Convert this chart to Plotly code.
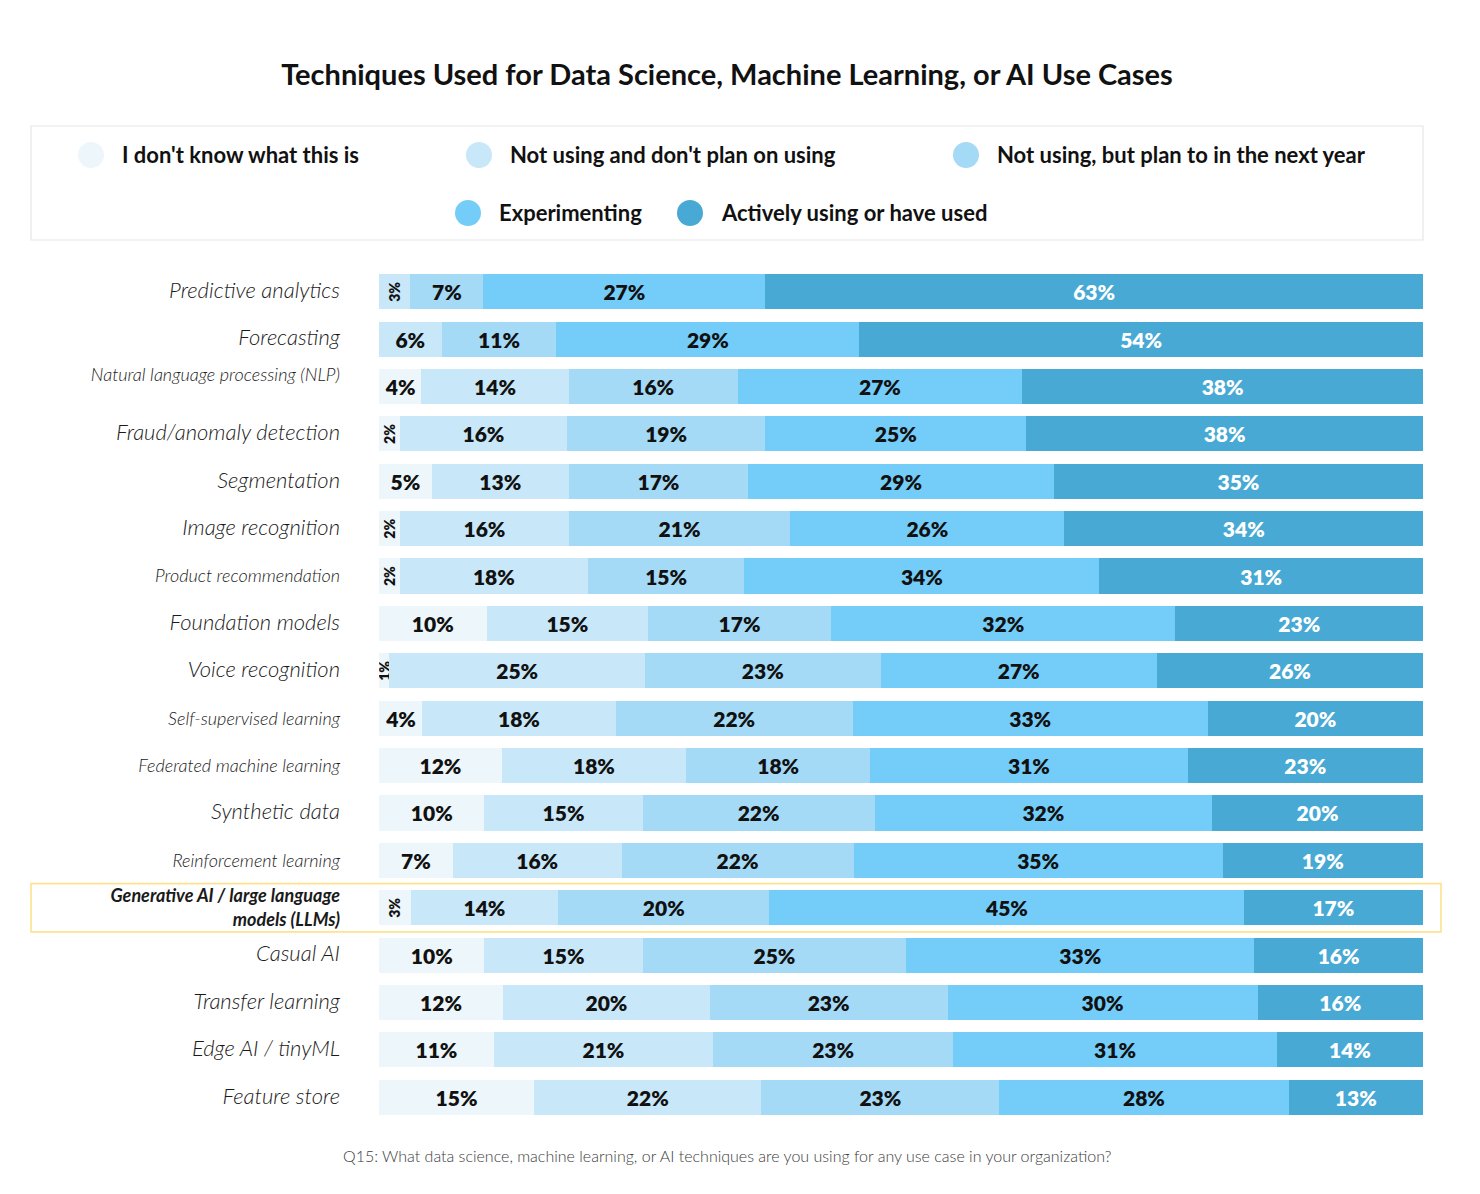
import plotly.graph_objects as go

techniques = [
    "Predictive analytics",
    "Forecasting",
    "Natural language processing (NLP)",
    "Fraud/anomaly detection",
    "Segmentation",
    "Image recognition",
    "Product recommendation",
    "Foundation models",
    "Voice recognition",
    "Self-supervised learning",
    "Federated machine learning",
    "Synthetic data",
    "Reinforcement learning",
    "Generative AI / large language models (LLMs)",
    "Casual AI",
    "Transfer learning",
    "Edge AI / tinyML",
    "Feature store",
]

dont_know = [0, 0, 4, 2, 5, 2, 2, 10, 1, 4, 12, 10, 7, 3, 10, 12, 11, 15]
not_using = [3, 6, 14, 16, 13, 16, 18, 15, 25, 18, 18, 15, 16, 14, 15, 20, 21, 22]
plan_next_year = [7, 11, 16, 19, 17, 21, 15, 17, 23, 22, 18, 22, 22, 20, 25, 23, 23, 23]
experimenting = [27, 29, 27, 25, 29, 26, 34, 32, 27, 33, 31, 32, 35, 45, 33, 30, 31, 28]
actively_using = [63, 54, 38, 38, 35, 34, 31, 23, 26, 20, 23, 20, 19, 17, 16, 16, 14, 13]

series_names = [
    "I don't know what this is",
    "Not using and don't plan on using",
    "Not using, but plan to in the next year",
    "Experimenting",
    "Actively using or have used",
]
series_values = [dont_know, not_using, plan_next_year, experimenting, actively_using]
colors = ["#EDF6FA", "#C8E7F8", "#A5DAF7", "#74CDF9", "#47A9D4"]
text_colors = ["#111111", "#111111", "#111111", "#111111", "#FFFFFF"]

small_font_labels = {
    "Natural language processing (NLP)",
    "Product recommendation",
    "Self-supervised learning",
    "Federated machine learning",
    "Reinforcement learning",
}
highlight = "Generative AI / large language models (LLMs)"

FONT = "Lato"
OFF = 8  # page margin around the figure
W, H = 1480, 1194
L, R, T, B = 379 - OFF, 57 + OFF, 268 - OFF, 73 + OFF
PW, PH = W - L - R, H - T - B


def px_x(px):
    return (px - OFF - L) / PW


def px_y(py):
    return (H - B - (py - OFF)) / PH


def span(txt, size):
    return '<span style="font-size:%dpx">%s</span>' % (size, txt)


def tick_label(name):
    if name == highlight:
        return "<b>Generative AI / large language<br>models (LLMs)</b>"
    if name == "Natural language processing (NLP)":
        return name + "<br>\u00a0"
    if name in small_font_labels:
        return name
    return span(name, 22)


fig = go.Figure()

for name, vals, col, tcol in zip(series_names, series_values, colors, text_colors):
    big = [v if v > 3 else 0 for v in vals]
    small = [v if 0 < v <= 3 else 0 for v in vals]
    fig.add_trace(go.Bar(
        y=techniques, x=big, orientation="h", name=name,
        marker=dict(color=col, line=dict(width=0)),
        text=["%d%%" % v if v else "" for v in big],
        textposition="inside", insidetextanchor="middle", textangle=0,
        constraintext="none",
        textfont=dict(family=FONT, size=21, color=tcol, weight=800),
        showlegend=False, hoverinfo="skip",
    ))
    fig.add_trace(go.Bar(
        y=techniques, x=small, orientation="h", name=name,
        marker=dict(color=col, line=dict(width=0)),
        text=["%d%%" % v if v else "" for v in small],
        textposition="inside", insidetextanchor="middle", textangle=-90,
        constraintext="none",
        textfont=dict(family=FONT, size=14, color=tcol, weight=800),
        showlegend=False, hoverinfo="skip",
    ))

shapes = []
annotations = []

# legend frame
shapes.append(dict(type="rect", xref="paper", yref="paper",
                   x0=px_x(31), x1=px_x(1423), y0=px_y(240), y1=px_y(126),
                   line=dict(color="#E6E6E6", width=1.2), fillcolor="white", layer="below"))

legend_spots = [(91, 155), (479, 155), (966, 155), (468, 213), (690, 213)]
for (cx, cy), name, col in zip(legend_spots, series_names, colors):
    shapes.append(dict(type="circle", xref="paper", yref="paper",
                       xsizemode="pixel", ysizemode="pixel",
                       xanchor=px_x(cx), yanchor=px_y(cy),
                       x0=-13, x1=13, y0=-13, y1=13,
                       fillcolor=col, line=dict(width=0)))
    annotations.append(dict(xref="paper", yref="paper", x=px_x(cx + 29), y=px_y(cy),
                            xanchor="left", yanchor="middle", showarrow=False,
                            text=name, font=dict(family=FONT, size=22, color="#111111", weight=700)))

# highlight frame around the generative AI row
idx = techniques.index(highlight)
shapes.append(dict(type="rect", xref="paper", yref="y",
                   x0=px_x(31), x1=px_x(1441), y0=idx - 0.51, y1=idx + 0.51,
                   line=dict(color="#FCE38C", width=1.6), layer="below"))

annotations.append(dict(xref="paper", yref="paper", x=px_x(727), y=px_y(1155),
                        xanchor="center", yanchor="middle", showarrow=False,
                        text="Q15: What data science, machine learning, or AI techniques are you using for any use case in your organization?",
                        font=dict(family=FONT, size=16, color="#3C3C3C", weight=300)))

fig.update_layout(
    width=W, height=H,
    margin=dict(l=L, r=R, t=T, b=B),
    barmode="stack", barnorm="percent", bargap=0.26,
    paper_bgcolor="white", plot_bgcolor="white",
    title=dict(text="<b>Techniques Used for Data Science, Machine Learning, or AI Use Cases</b>",
               x=(727 - OFF) / W, xanchor="center", y=1 - (75 - OFF) / H, yanchor="middle",
               font=dict(family=FONT, size=29, color="#111111")),
    shapes=shapes, annotations=annotations,
    showlegend=False,
)
fig.update_xaxes(range=[0, 100], visible=False, fixedrange=True)
fig.update_yaxes(
    type="category", autorange="reversed",
    tickmode="array", tickvals=techniques, ticktext=[tick_label(t) for t in techniques],
    ticks="", showline=False, showgrid=False, zeroline=False,
    ticklabelstandoff=38,
    tickfont=dict(family=FONT, size=18, color="#1A1A1A", style="italic", weight=300),
)

fig.write_html("out.html")
